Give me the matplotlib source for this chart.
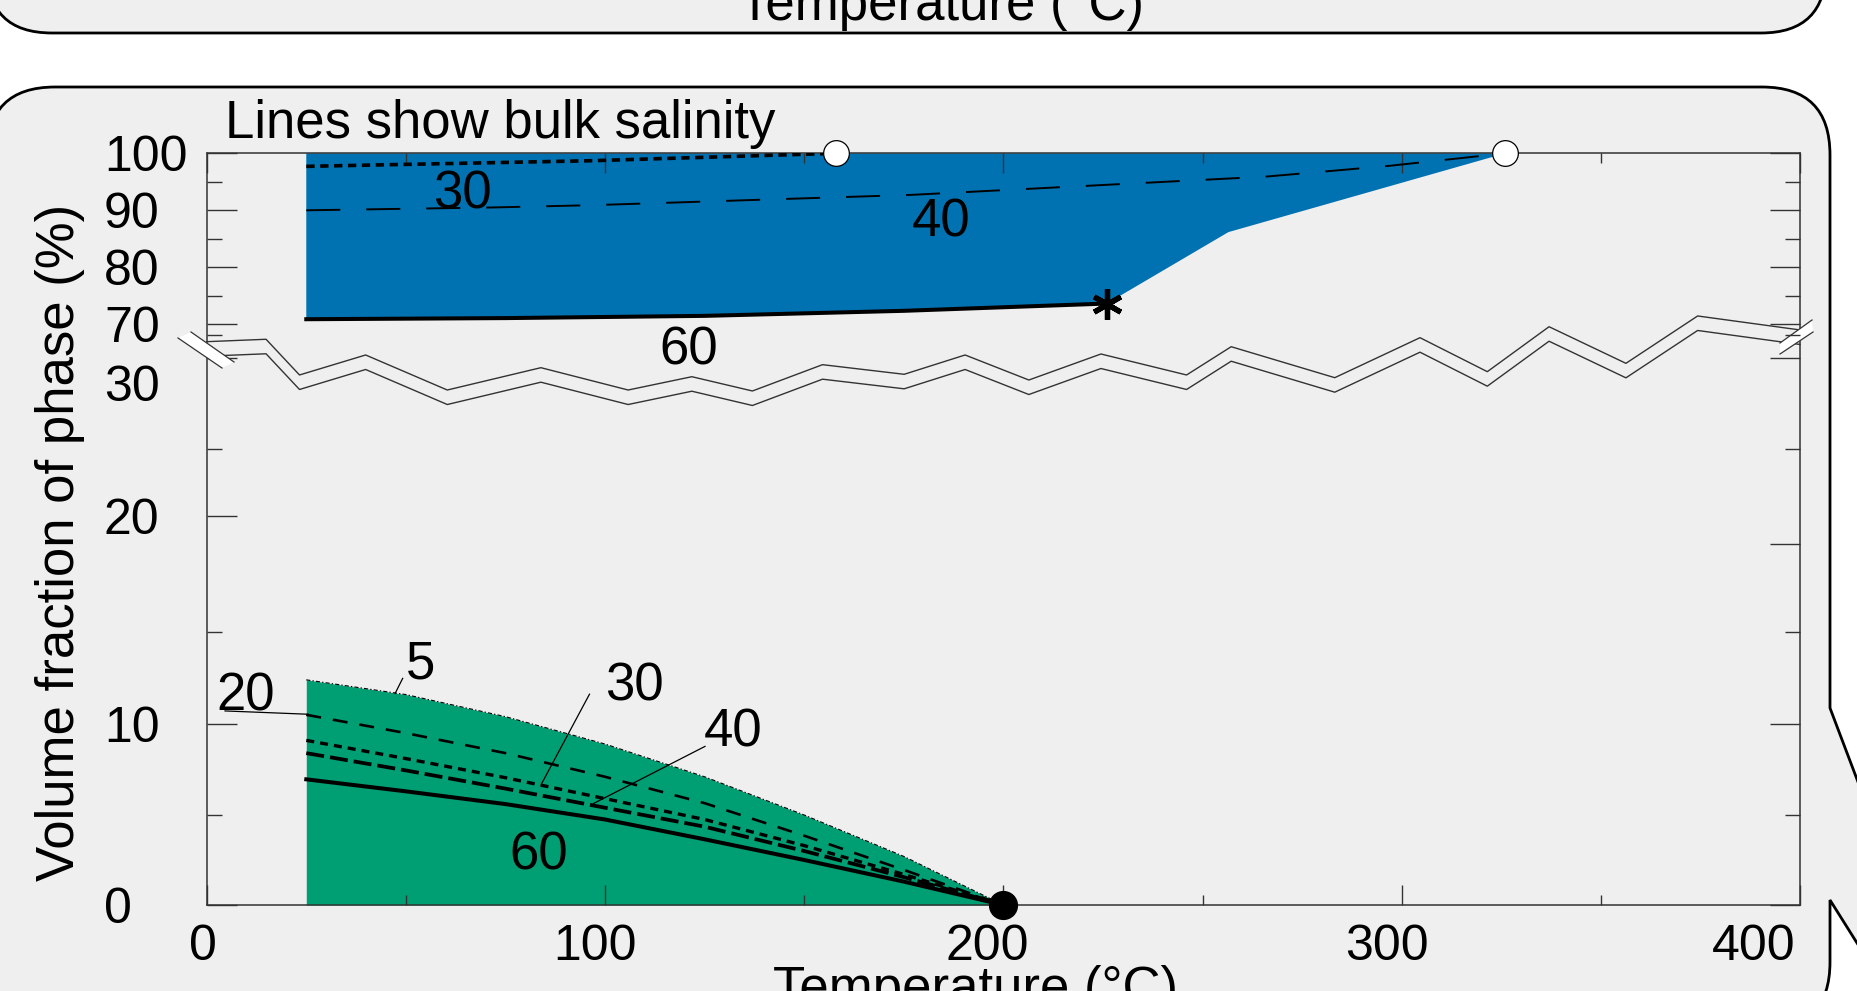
import numpy as np
import matplotlib.pyplot as plt
from matplotlib.path import Path
from matplotlib.patches import PathPatch, Polygon
from matplotlib.transforms import ScaledTranslation

plt.rcParams['font.family'] = ['Liberation Sans', 'DejaVu Sans']
plt.rcParams['lines.scale_dashes'] = False

BLUE = '#0072B2'
GREEN = '#009E73'
PANEL = '#EFEFEF'
INK = '#333333'

# ---- values (temperature in C, volume fraction in %) ----
# liquid phase (green), lines of constant bulk salinity
low_t = [25, 50, 75, 100, 125, 150, 175, 200]
top5_v = [12.4, 11.6, 10.4, 8.9, 7.1, 5.0, 2.7, 0]
l20_v = [10.5, 9.5, 8.4, 7.1, 5.65, 3.85, 1.95, 0]
l30_v = [9.1, 8.1, 7.05, 5.9, 4.75, 3.3, 1.7, 0]
l40_v = [8.4, 7.45, 6.45, 5.4, 4.35, 3.0, 1.55, 0]
l60_v = [6.96, 6.3, 5.6, 4.75, 3.65, 2.5, 1.3, 0]

# vapour phase (blue)
u60_t = [25, 75, 125, 175, 226]
u60_v = [70.8, 71.0, 71.4, 72.3, 73.6]
edge_t = [226, 256.5, 326]
edge_v = [73.6, 86.2, 100]
u30_t = [25, 97, 158]
u30_v = [97.7, 98.7, 100]
u40_t = [25, 72, 97, 177, 266, 297, 326]
u40_v = [90, 90.5, 90.9, 92.7, 95.9, 97.8, 100]

open_pts_t = [158, 326]
open_pts_v = [100, 100]
star_t, star_v = 226, 73.6
dot_t, dot_v = 200, 0

x_ticks = [0, 100, 200, 300, 400]
x_tick_shift = [-4, -10, -16, -15, -46]  # hand-placed labels in the original, px
y_left_major = [0, 10, 20, 30, 70, 80, 90, 100]
y_left_labels = ['0', '10', '20', '', '70', '80', '90', '100']
y_left_minor = [5, 15, 25, 65, 75, 85, 95]
y_right_major = [0, 10, 18.8, 30, 70, 80, 90, 100]
y_right_minor = [5, 15, 25, 65, 75, 85, 95]

# broken y axis: value -> position (pixels above the x axis)
scale_vals = [0, 5, 10, 15, 20, 25, 30, 65, 70, 75, 80, 85, 90, 95, 100]
scale_pos = [0, 90, 181, 273, 389, 456, 547, 570.3, 581.3, 609.3, 637.7, 666, 694.7, 723.3, 751.7]


def fwd(v):
    return np.interp(v, scale_vals, scale_pos)


def inv(p):
    return np.interp(p, scale_pos, scale_vals)


# zigzag axis break (x in C, y as axes fraction)
zig_t = [0, 14.9, 23.3, 39.9, 60.4, 83.9, 105.8, 121.8, 137.0, 154.6, 175.1, 190.4,
         206.4, 224.5, 246.0, 257.2, 283.2, 304.6, 321.5, 337.0, 356.3, 374.3, 400]
zig_y = [0.7494, 0.7526, 0.7051, 0.7317, 0.6851, 0.7148, 0.6851, 0.7028, 0.6838, 0.7188,
         0.7060, 0.7317, 0.6984, 0.7330, 0.7051, 0.7427, 0.7015, 0.7547, 0.7095, 0.7693,
         0.7206, 0.7836, 0.7650]
zig_gap = 0.0193

W, H = 1858, 991
fig = plt.figure(figsize=(W / 100, H / 100), dpi=100)

# background layer in pixel coordinates, for the panel outlines
bg = fig.add_axes([0, 0, 1, 1], zorder=-1)
bg.set_xlim(0, W)
bg.set_ylim(H, 0)
bg.axis('off')


def rounded(l, t, r, b, rad, pointer=None):
    v = [(l + rad, t), (r - rad, t), (r, t), (r, t + rad)]
    c = [Path.MOVETO, Path.LINETO, Path.CURVE3, Path.CURVE3]
    if pointer:
        for p in pointer:
            v.append(p)
            c.append(Path.LINETO)
    v += [(r, b - rad), (r, b), (r - rad, b), (l + rad, b), (l, b), (l, b - rad),
          (l, t + rad), (l, t), (l + rad, t), (l + rad, t)]
    c += [Path.LINETO, Path.CURVE3, Path.CURVE3, Path.LINETO, Path.CURVE3, Path.CURVE3,
          Path.LINETO, Path.CURVE3, Path.CURVE3, Path.CLOSEPOLY]
    return Path(v, c)


bg.add_patch(PathPatch(rounded(-13, -300, 1826, 33, 65), facecolor=PANEL,
                       edgecolor='black', lw=2))
ptr = [(1830, 708), (1950, 1025), (1950, 1091), (1830, 900)]
bg.add_patch(PathPatch(rounded(-13, 87, 1830, 1030, 68, ptr), facecolor=PANEL,
                       edgecolor='black', lw=2))

bg.text(942, 20, 'Temperature (°C)', fontsize=38, ha='center', va='baseline')
bg.text(976, 1004, 'Temperature (°C)', fontsize=38, ha='center', va='baseline')
bg.text(60, 542, 'Volume fraction of phase (%)', fontsize=38, rotation=90,
        ha='center', va='center')
bg.text(225, 138, 'Lines show bulk salinity', fontsize=38, ha='left', va='baseline')
bg.text(104, 383, '30', fontsize=36, ha='left', va='center_baseline')

# main axes
ax = fig.add_axes([206.7 / W, 86 / H, (1800 - 206.7) / W, 751.7 / H])
ax.set_facecolor('none')
ax.set_yscale('function', functions=(fwd, inv))
ax.set_xlim(0, 400)
ax.set_ylim(0, 100)

# green liquid region and salinity lines
ax.fill_between(low_t, 0, top5_v, color=GREEN, lw=0, zorder=1)
ax.plot(low_t, top5_v, color='black', lw=0.8, ls=(0, (3, 1.5, 1, 1.5)), zorder=3)
ax.plot(low_t, l20_v, color='black', lw=1.9, ls=(0, (10.8, 8.6)), zorder=3)
ax.plot(low_t, l30_v, color='black', lw=2.4, ls=(0, (5.8, 4.3)), zorder=3)
ax.plot(low_t, l40_v, color='black', lw=2.7, ls=(0, (13, 4.3)), zorder=3)
ax.plot(low_t, l60_v, color='black', lw=2.9, zorder=3)

# blue region and lines
ax.fill(u60_t + edge_t[1:] + [u60_t[0]], u60_v + edge_v[1:] + [100],
        color=BLUE, lw=0, zorder=1, clip_on=False)
ax.plot(u60_t, u60_v, color='black', lw=2.9, zorder=3)
ax.plot(u30_t, u30_v, color='black', lw=2.6, ls=(0, (6, 4)), zorder=3)
ax.plot(u40_t, u40_v, color='black', lw=1.4, ls=(0, (24.5, 18.7)), zorder=3)

ax.plot(open_pts_t, open_pts_v, 'o', ms=18.5, mfc='white', mec='black', mew=0.9,
        zorder=6, clip_on=False)
ax.plot(star_t, star_v, marker=(6, 2, 0), ms=22, mec='black', mew=3.8, zorder=6)
ax.plot(dot_t, dot_v, 'o', ms=20, color='black', zorder=6, clip_on=False)

# labels on the curves
lab = dict(fontsize=38, ha='center', va='baseline', zorder=5)
ax.text(64.3, 90.35, '30', **lab)
ax.text(184.4, 85.4, '40', **lab)
ax.text(120.9, 0.7184, '60', transform=ax.get_xaxis_transform(), **lab)
ax.text(53.8, 12.47, '5', **lab)
ax.text(9.8, 10.74, '20', **lab)
ax.text(107.3, 11.29, '30', **lab)
ax.text(132.2, 8.74, '40', **lab)
ax.text(83.3, 1.96, '60', **lab)
lead = dict(color='black', lw=0.9, zorder=4)
ax.plot([49.2, 47.3], [12.48, 11.66], **lead)
ax.plot([4.6, 25.5], [10.71, 10.53], **lead)
ax.plot([96.1, 84.1], [11.62, 6.73], **lead)
ax.plot([125.1, 97.1], [8.77, 5.63], **lead)

# zigzag break
xt = ax.get_xaxis_transform()
ax.plot(zig_t, zig_y, color=INK, lw=1.0, transform=xt, zorder=4, clip_on=False)
ax.plot(zig_t, np.array(zig_y) - zig_gap, color=INK, lw=1.0, transform=xt, zorder=4,
        clip_on=False)
marks = [[(178, 338), (191, 332), (234, 362), (222, 368)],
         [(1780, 343), (1812, 320), (1813, 332), (1780, 354)]]
for quad in marks:
    ax.add_patch(Polygon(quad, closed=True, facecolor='white', edgecolor='none',
                         transform=bg.transData, clip_on=False, zorder=7))
pix = dict(color=INK, lw=0.9, transform=bg.transData, clip_on=False, zorder=8)
ax.plot([178, 222], [338, 368], **pix)
ax.plot([191, 234], [332, 362], **pix)
ax.plot([1780, 1812], [343, 320], **pix)
ax.plot([1780, 1813], [354, 332], **pix)

# axes, ticks
for s in ax.spines.values():
    s.set_color(INK)
    s.set_linewidth(1.1)
ax.set_xticks(x_ticks)
ax.set_xticks([50, 150, 250, 350], minor=True)
ax.set_yticks(y_left_major)
ax.set_yticklabels(y_left_labels)
ax.set_yticks(y_left_minor, minor=True)
ax.tick_params(axis='x', which='major', direction='in', length=14.4, width=1,
               color=INK, top=True, labelsize=36, pad=14)
ax.tick_params(axis='x', which='minor', direction='in', length=7.2, width=1,
               color=INK, top=True)
ax.tick_params(axis='y', which='major', direction='in', length=21.6, width=1,
               color=INK, labelsize=36, pad=74)
ax.tick_params(axis='y', which='minor', direction='in', length=10.8, width=1,
               color=INK)
for t in ax.get_yticklabels():
    t.set_horizontalalignment('left')
for t, dx in zip(ax.get_xticklabels(), x_tick_shift):
    t.set_transform(t.get_transform() + ScaledTranslation(dx / 100, 0, fig.dpi_scale_trans))

# right-hand ticks were drawn separately in the original
rt = ax.twinx()
rt.set_yscale('function', functions=(fwd, inv))
rt.set_ylim(0, 100)
rt.set_yticks(y_right_major)
rt.set_yticks(y_right_minor, minor=True)
rt.tick_params(axis='y', which='major', direction='in', length=21.6, width=1,
               color=INK, labelright=False)
rt.tick_params(axis='y', which='minor', direction='in', length=10.8, width=1,
               color=INK)
for s in rt.spines.values():
    s.set_visible(False)

fig.savefig('out.png', dpi=100, facecolor='white')
